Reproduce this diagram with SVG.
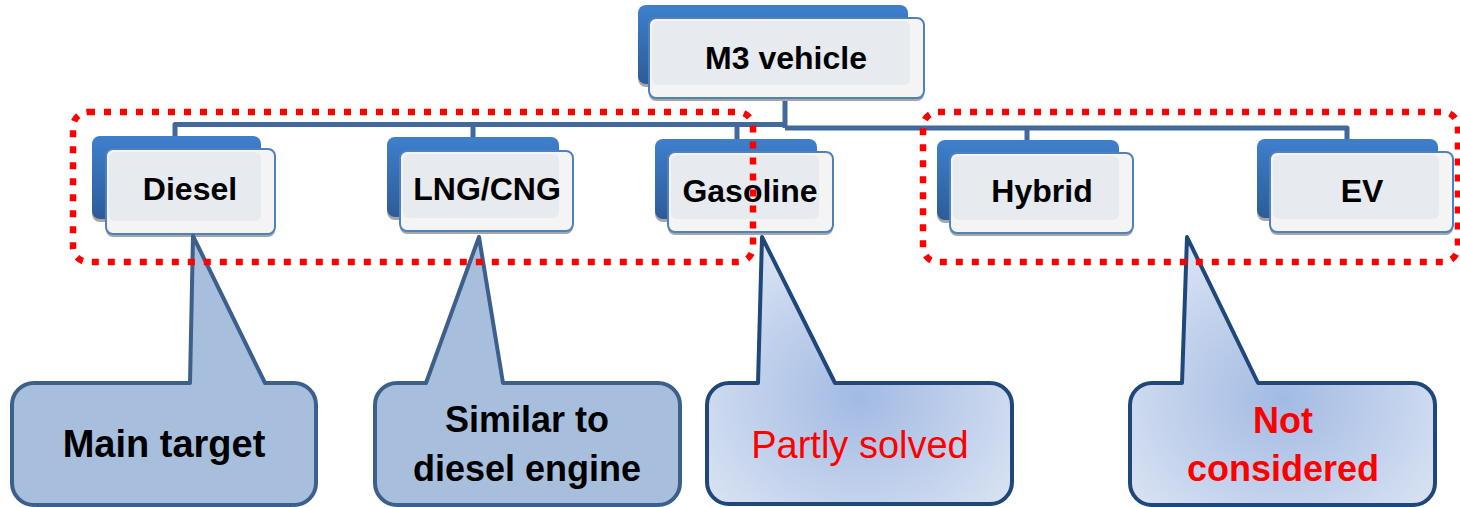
<svg xmlns="http://www.w3.org/2000/svg" width="1460" height="507" viewBox="0 0 1460 507">
<defs>
<linearGradient id="backG" x1="0" y1="0" x2="0" y2="1">
<stop offset="0" stop-color="#3e7fcd"/>
<stop offset="1" stop-color="#2d5c98"/>
</linearGradient>
<radialGradient id="callG" cx="0.5" cy="0.6" r="0.65">
<stop offset="0" stop-color="#a2bae3"/>
<stop offset="1" stop-color="#dbe4f3"/>
</radialGradient>
<style>
.back{fill:url(#backG);}
.shadow{fill:#a6a6a6;}
.front{fill:#f4f4f4;stroke:#4f81bd;stroke-width:2;}
.inner{fill:#e7eaef;}
.lbl{font-family:"Liberation Sans",Arial,sans-serif;font-weight:bold;font-size:32px;fill:#000;text-anchor:middle;}
.conn{fill:none;stroke:#41699b;stroke-width:5;stroke-linejoin:round;}
.dot{fill:none;stroke:#ff0000;stroke-width:6.5;stroke-dasharray:7 9;}
.callA{fill:#a7bfdd;stroke:#3c5f8b;stroke-width:4;stroke-linejoin:round;}
.callB{fill:url(#callG);stroke:#1f477a;stroke-width:4;stroke-linejoin:round;}
.ct{font-family:"Liberation Sans",Arial,sans-serif;font-size:36px;text-anchor:middle;}
.big{font-size:38px;}
.bold{font-weight:bold;}
.red{fill:#ff0000;}
.blk{fill:#000;}
</style>
</defs>
<rect width="1460" height="507" fill="#ffffff"/>

<g id="connectors">
<path class="conn" d="M785,98 V128"/>
<path class="conn" d="M175,139 V124.5 H785"/>
<path class="conn" d="M473,139 V124.5"/>
<path class="conn" d="M737,141 V124.5"/>
<path class="conn" d="M785,128 H1347 V141"/>
<path class="conn" d="M1027,128 V142"/>
</g>

<g id="node-m3">
<rect class="shadow" x="638" y="8" width="270" height="79" rx="8"/>
<rect class="back" x="638" y="5" width="270" height="79" rx="8"/>
<rect class="shadow" x="649" y="21" width="275" height="80" rx="7"/>
<rect class="front" x="649" y="18" width="275" height="80" rx="7"/>
<rect class="inner" x="652" y="21" width="258" height="64" rx="6"/>
<text class="lbl" x="786" y="69">M3 vehicle</text>
</g>

<g id="node-diesel">
<rect class="shadow" x="92" y="139" width="169" height="83" rx="8"/>
<rect class="back" x="92" y="136" width="169" height="83" rx="8"/>
<rect class="shadow" x="106" y="152" width="169" height="85" rx="7"/>
<rect class="front" x="106" y="149" width="169" height="85" rx="7"/>
<rect class="inner" x="109" y="152" width="152" height="69" rx="6"/>
<text class="lbl" x="190" y="200">Diesel</text>
</g>

<g id="node-lng">
<rect class="shadow" x="387" y="140" width="172" height="80" rx="8"/>
<rect class="back" x="387" y="137" width="172" height="80" rx="8"/>
<rect class="shadow" x="400" y="154" width="173" height="80" rx="7"/>
<rect class="front" x="400" y="151" width="173" height="80" rx="7"/>
<rect class="inner" x="403" y="154" width="156" height="64" rx="6"/>
<text class="lbl" x="487" y="200">LNG/CNG</text>
</g>

<g id="node-gasoline">
<rect class="shadow" x="655" y="142" width="162" height="80" rx="8"/>
<rect class="back" x="655" y="139" width="162" height="80" rx="8"/>
<rect class="shadow" x="668" y="155" width="165" height="80" rx="7"/>
<rect class="front" x="668" y="152" width="165" height="80" rx="7"/>
<rect class="inner" x="671" y="155" width="148" height="64" rx="6"/>
<text class="lbl" x="750" y="202">Gasoline</text>
</g>

<g id="node-hybrid">
<rect class="shadow" x="937" y="143" width="182" height="80" rx="8"/>
<rect class="back" x="937" y="140" width="182" height="80" rx="8"/>
<rect class="shadow" x="950" y="156" width="183" height="80" rx="7"/>
<rect class="front" x="950" y="153" width="183" height="80" rx="7"/>
<rect class="inner" x="953" y="156" width="166" height="64" rx="6"/>
<text class="lbl" x="1042" y="202">Hybrid</text>
</g>

<g id="node-ev">
<rect class="shadow" x="1257" y="142" width="181" height="79" rx="8"/>
<rect class="back" x="1257" y="139" width="181" height="79" rx="8"/>
<rect class="shadow" x="1270" y="155" width="183" height="80" rx="7"/>
<rect class="front" x="1270" y="152" width="183" height="80" rx="7"/>
<rect class="inner" x="1273" y="155" width="166" height="64" rx="6"/>
<text class="lbl" x="1362" y="202">EV</text>
</g>

<g id="callout-main">
<path class="callA" d="M34,383 H190 L193,236 L265,383 H294 A22,22 0 0 1 316,405 V483 A22,22 0 0 1 294,505 H34 A22,22 0 0 1 12,483 V405 A22,22 0 0 1 34,383 Z"/>
<text class="ct big bold blk" x="164" y="457">Main target</text>
</g>

<g id="callout-similar">
<path class="callA" d="M397,383 H426 L479,237 L503,383 H658 A22,22 0 0 1 680,405 V483 A22,22 0 0 1 658,505 H397 A22,22 0 0 1 375,483 V405 A22,22 0 0 1 397,383 Z"/>
<text class="ct bold blk" x="527" y="432">Similar to</text>
<text class="ct bold blk" x="527" y="481">diesel engine</text>
</g>

<g id="callout-partly">
<path class="callB" d="M729,383 H758 L762,237 L835,383 H990 A22,22 0 0 1 1012,405 V482 A22,22 0 0 1 990,504 H729 A22,22 0 0 1 707,482 V405 A22,22 0 0 1 729,383 Z"/>
<text class="ct big red" x="860" y="458">Partly solved</text>
</g>

<g id="callout-not">
<path class="callB" d="M1152,383 H1182 L1187,237 L1258,383 H1413 A22,22 0 0 1 1435,405 V483 A22,22 0 0 1 1413,505 H1152 A22,22 0 0 1 1130,483 V405 A22,22 0 0 1 1152,383 Z"/>
<text class="ct bold red" x="1283" y="433">Not</text>
<text class="ct bold red" x="1283" y="481">considered</text>
</g>

<g id="groups">
<rect class="dot" x="73" y="112" width="680" height="150" rx="15"/>
<rect class="dot" x="923" y="112" width="535" height="150" rx="15"/>
</g>
</svg>
